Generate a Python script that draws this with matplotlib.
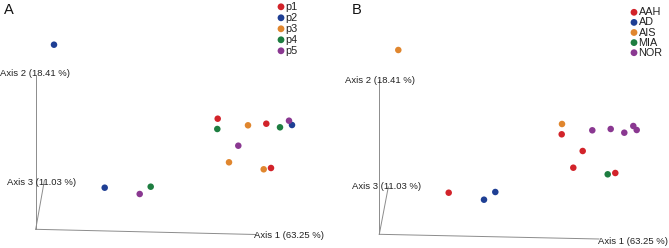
import matplotlib
matplotlib.use("Agg")
import matplotlib.pyplot as plt

plt.rcParams['font.family'] = ['Liberation Sans', 'DejaVu Sans']

# Panel A: projected PCoA coordinates (screen-projected units)
a_groups = ["p1", "p2", "p3", "p4", "p5"]
a_x = {
    "p1": [217.7, 266.3, 271.0],
    "p2": [54.0, 292.0, 104.7],
    "p3": [248.0, 229.0, 263.7],
    "p4": [217.3, 280.0, 150.7],
    "p5": [289.0, 238.3, 139.7],
}
a_y = {
    "p1": [118.7, 123.7, 168.0],
    "p2": [44.7, 125.0, 187.7],
    "p3": [125.3, 162.3, 169.3],
    "p4": [129.0, 127.3, 186.7],
    "p5": [120.7, 145.7, 194.0],
}

# Panel B
b_groups = ["AAH", "AD", "AIS", "MIA", "NOR"]
b_x = {
    "AAH": [226.7, 247.7, 238.3, 280.3, 113.7],
    "AD": [160.3, 149.0],
    "AIS": [63.3, 227.0],
    "MIA": [272.7],
    "NOR": [257.3, 275.7, 289.3, 298.3, 301.7],
}
b_y = {
    "AAH": [134.3, 151.0, 167.7, 173.0, 192.7],
    "AD": [192.0, 199.7],
    "AIS": [50.0, 124.0],
    "MIA": [174.3],
    "NOR": [130.3, 129.0, 132.7, 126.0, 130.0],
}

axis_labels = ["Axis 1 (63.25 %)", "Axis 2 (18.41 %)", "Axis 3 (11.03 %)"]
colors = ["#d2232a", "#1f3f94", "#e0862e", "#1d7d40", "#8a3891"]

fig = plt.figure(figsize=(6.69, 2.48), dpi=100)

def panel(left, width, groups, xs, ys, letter, origin, a1_end, a2_top, a3_end,
          lab1, lab2, lab3, leg_x, leg_y0, leg_dy, letter_pos):
    ax = fig.add_axes([left / 669, 0, width / 669, 1])
    ax.set_xlim(0, width)
    ax.set_ylim(248, 0)
    ax.axis("off")
    lc = "#8c8c8c"
    ax.plot([origin[0], a1_end[0]], [origin[1], a1_end[1]], color=lc, lw=0.7)
    ax.plot([origin[0], a2_top[0]], [origin[1], a2_top[1]], color=lc, lw=0.7)
    ax.plot([origin[0], a3_end[0]], [origin[1], a3_end[1]], color=lc, lw=0.7)
    fs = 6.8
    ax.text(lab1[0], lab1[1], axis_labels[0], fontsize=fs, ha="left", va="center", color="#222222")
    ax.text(lab2[0], lab2[1], axis_labels[1], fontsize=fs, ha="left", va="center", color="#222222")
    ax.text(lab3[0], lab3[1], axis_labels[2], fontsize=fs, ha="left", va="center", color="#222222")
    for i, g in enumerate(groups):
        ax.scatter(xs[g], ys[g], s=22, color=colors[i], edgecolors="none", zorder=3)
        ly = leg_y0 + i * leg_dy
        ax.scatter([leg_x], [ly], s=24, color=colors[i], edgecolors="none")
        ax.text(leg_x + 4.5, ly, g, fontsize=7.8, ha="left", va="center", color="#222222")
    ax.text(letter_pos[0], letter_pos[1], letter, fontsize=10.5, ha="left", va="center", color="#111111")

panel(0, 335, a_groups, a_x, a_y, "A",
      origin=(35.7, 229.3), a1_end=(256.0, 234.5), a2_top=(35.7, 76.0), a3_end=(44.3, 181.0),
      lab1=(254.0, 236.0), lab2=(0.5, 73.0), lab3=(7.0, 182.3),
      leg_x=281.0, leg_y0=6.8, leg_dy=11.0, letter_pos=(3.5, 10.0))

panel(335, 334, b_groups, b_x, b_y, "B",
      origin=(44.3, 234.3), a1_end=(264.0, 239.0), a2_top=(44.3, 80.0), a3_end=(53.3, 187.0),
      lab1=(263.0, 241.0), lab2=(10.0, 80.7), lab3=(17.3, 186.7),
      leg_x=299.0, leg_y0=12.3, leg_dy=10.1, letter_pos=(16.5, 9.5))

fig.savefig("out.png", dpi=100)
